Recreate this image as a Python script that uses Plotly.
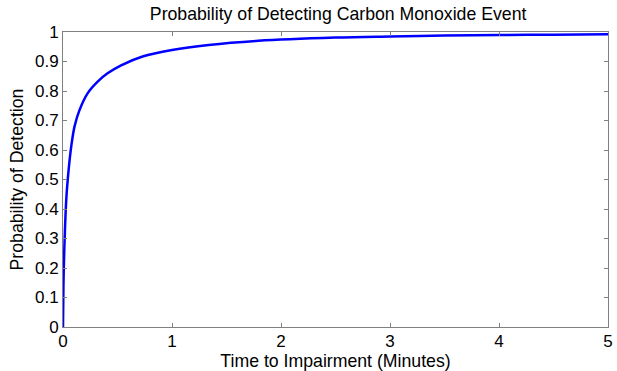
import plotly.graph_objects as go

time_min = [0, 0.004, 0.012, 0.03, 0.052, 0.076, 0.106, 0.152, 0.227, 0.318, 0.409,
            0.533, 0.73, 1.0, 1.336, 1.79, 2.5, 3.0, 3.5, 4.0, 4.5, 5.0]
prob = [0, 0.14, 0.263, 0.432, 0.534, 0.613, 0.680, 0.736, 0.793, 0.832, 0.860,
        0.887, 0.917, 0.939, 0.956, 0.970, 0.981, 0.985, 0.988, 0.990, 0.991, 0.992]

x_ticks = [0, 1, 2, 3, 4, 5]
y_ticks = [0, 0.1, 0.2, 0.3, 0.4, 0.5, 0.6, 0.7, 0.8, 0.9, 1]
y_tick_text = ["0", "0.1", "0.2", "0.3", "0.4", "0.5", "0.6", "0.7", "0.8", "0.9", "1"]

fig = go.Figure()
fig.add_trace(go.Scatter(x=time_min, y=prob, mode="lines",
                         line=dict(color="#0000ff", width=2.5, shape="spline", smoothing=1.0),
                         showlegend=False, hoverinfo="skip"))

tick_font = dict(family="Liberation Sans, Arial, sans-serif", size=17, color="#000000")
title_font = dict(family="Liberation Sans, Arial, sans-serif", size=17.7, color="#000000")
axis_common = dict(showline=True, linecolor="#808080", linewidth=1, mirror="ticks",
                   ticks="inside", ticklen=4, tickcolor="#808080", showgrid=False,
                   zeroline=False, tickfont=tick_font, ticklabeloverflow="allow")

fig.update_layout(
    width=617, height=371,
    margin=dict(l=63, r=4, t=32, b=43),
    paper_bgcolor="white", plot_bgcolor="white",
    title=dict(text="Probability of Detecting Carbon Monoxide Event", x=0.548, xanchor="center",
               y=0.962, yanchor="middle", font=title_font),
    xaxis=dict(range=[0, 5], tickvals=x_ticks, ticktext=[str(v) for v in x_ticks],
               ticklabelstandoff=-1,
               title=dict(text="Time to Impairment (Minutes)", font=title_font, standoff=3),
               **axis_common),
    yaxis=dict(range=[0, 1], tickvals=y_ticks, ticktext=y_tick_text,
               title=dict(text="Probability of Detection", font=title_font, standoff=6),
               **axis_common),
)

fig.write_html("out.html")
